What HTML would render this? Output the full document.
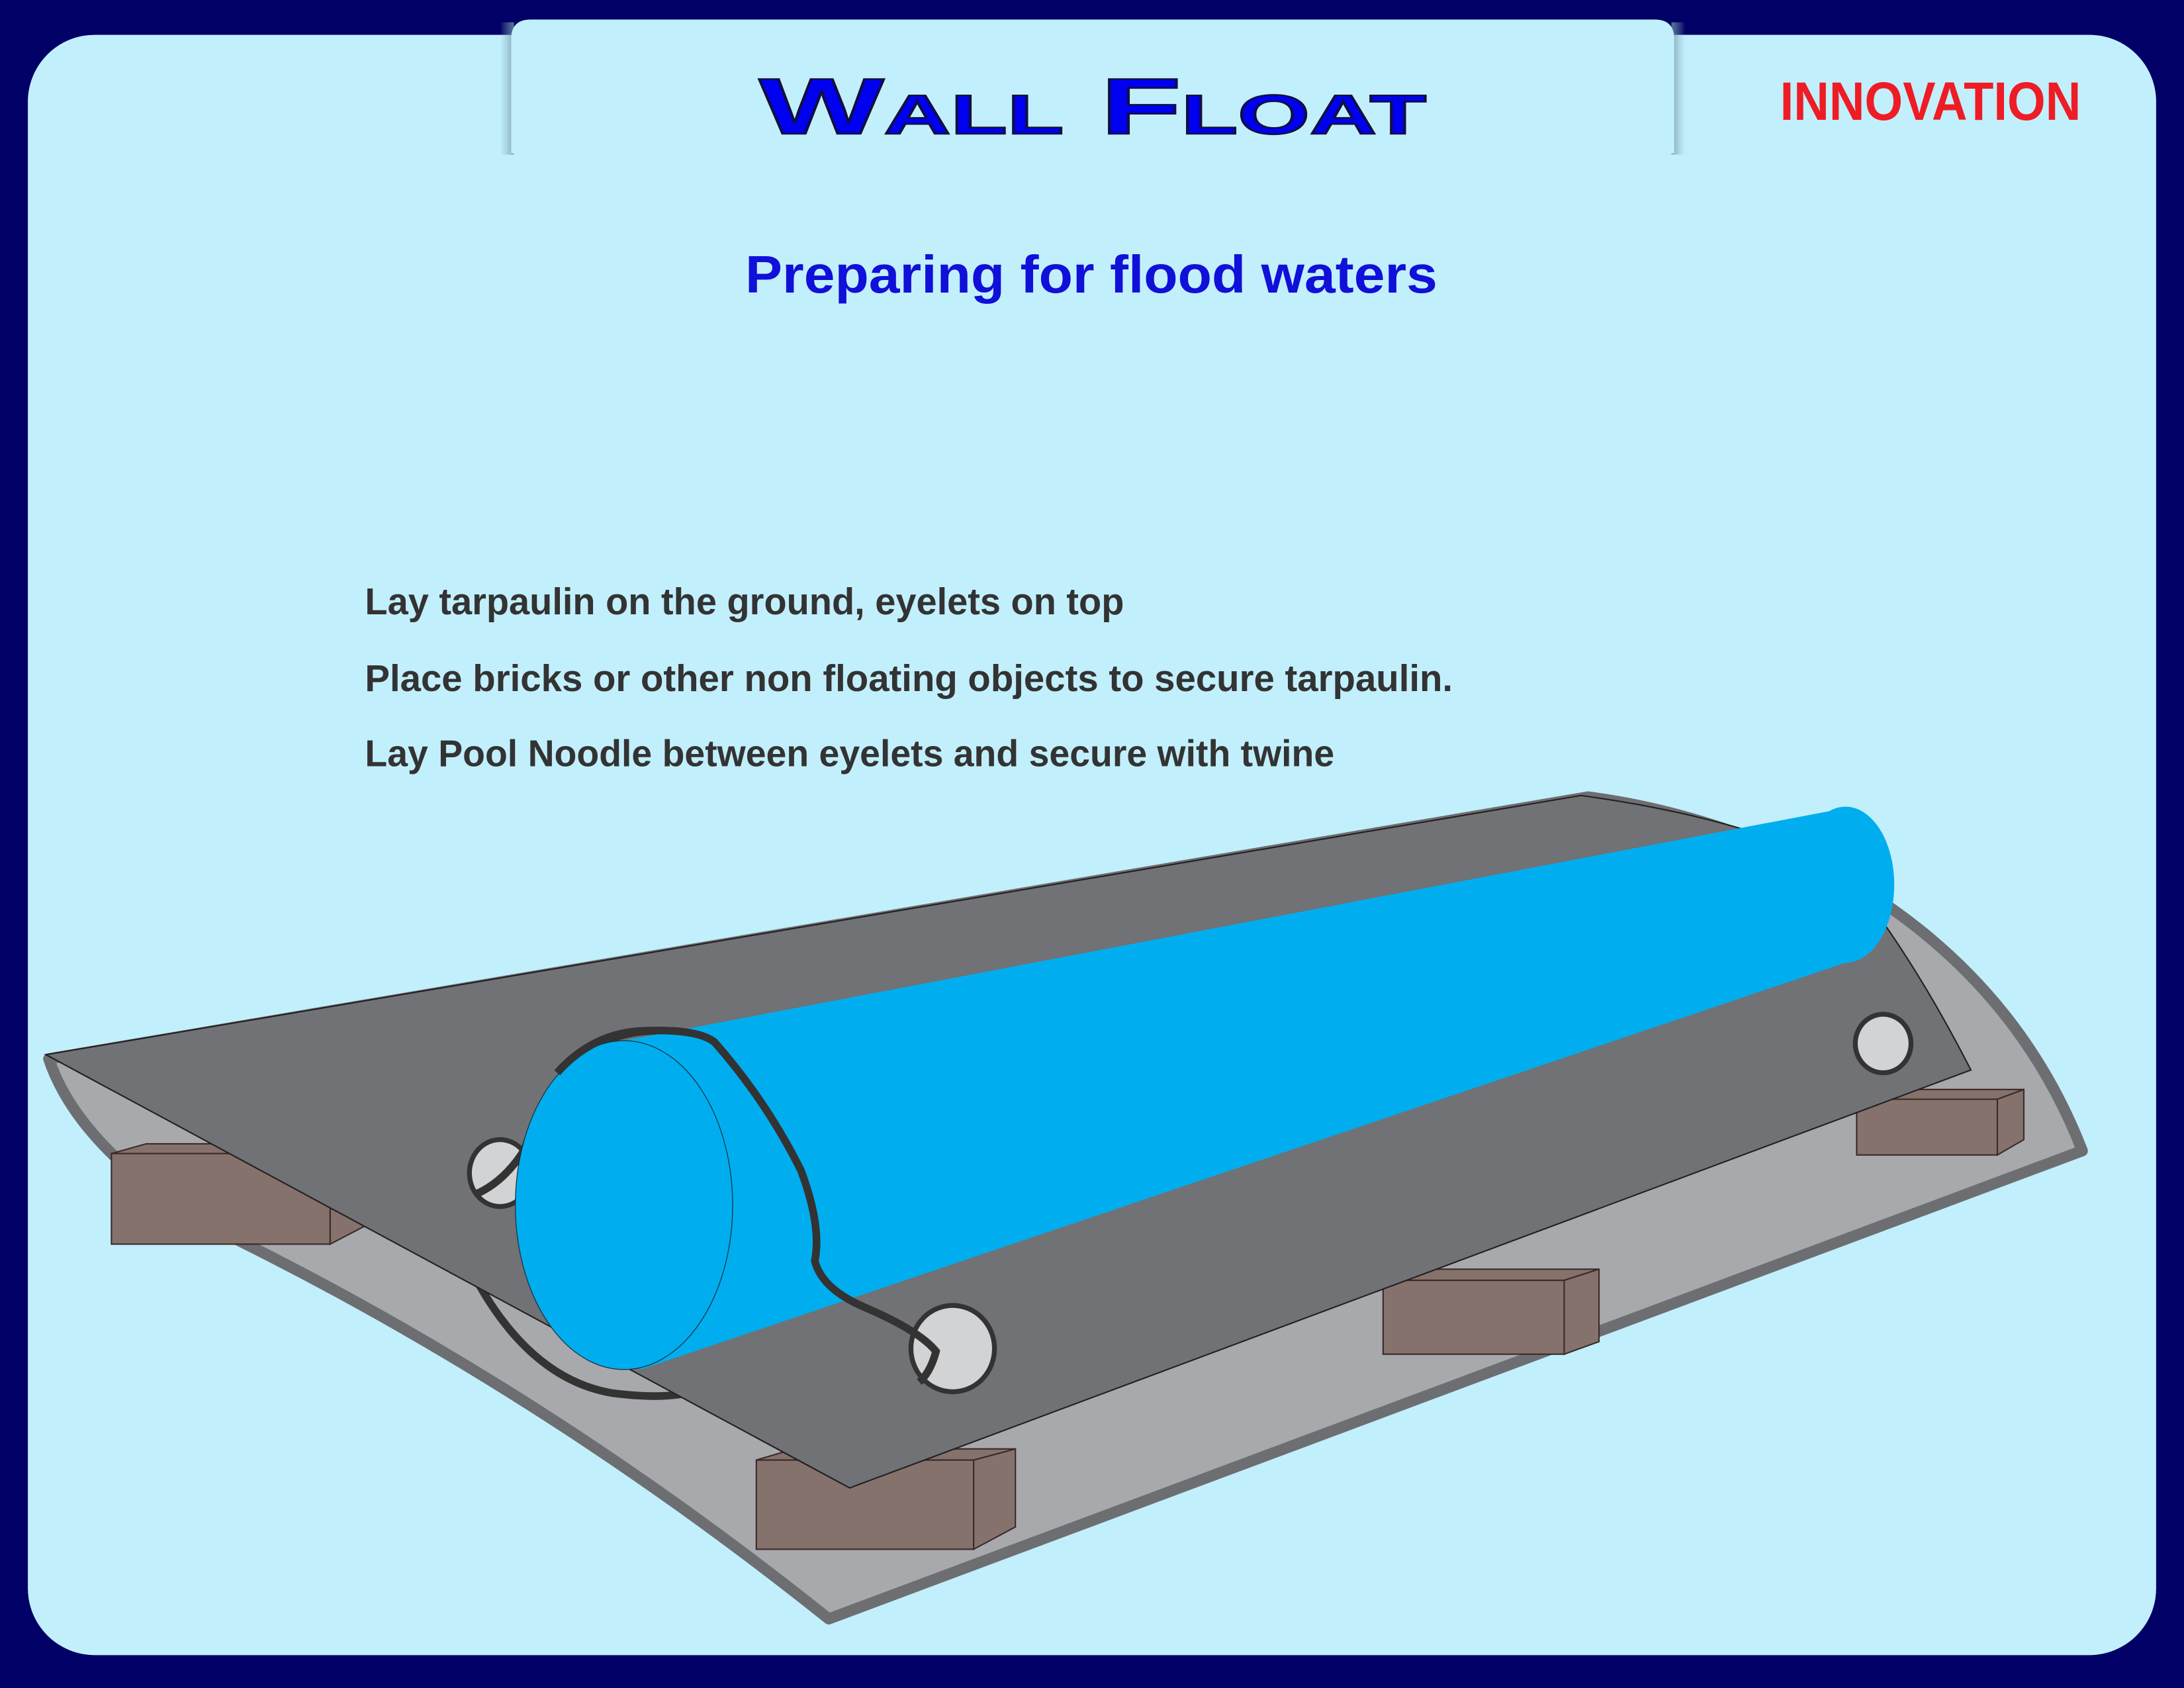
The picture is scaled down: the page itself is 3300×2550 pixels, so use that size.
<!DOCTYPE html>
<html><head><meta charset="utf-8"><style>
html,body{margin:0;padding:0;background:#000066;}
svg{display:block;}
</style></head><body>
<svg width="3300" height="2550" viewBox="0 0 1568 1211.6" preserveAspectRatio="none" xmlns="http://www.w3.org/2000/svg">
<defs>
<linearGradient id="shl" x1="0" x2="1"><stop offset="0" stop-color="#8fb4c4" stop-opacity="0"/><stop offset="1" stop-color="#6f95a8" stop-opacity="0.8"/></linearGradient>
<linearGradient id="shr" x1="1" x2="0"><stop offset="0" stop-color="#8fb4c4" stop-opacity="0"/><stop offset="1" stop-color="#6f95a8" stop-opacity="0.8"/></linearGradient>
</defs>
<rect x="0" y="0" width="1568" height="1212" fill="#000066"/>
<rect x="20" y="25" width="1528" height="1163" rx="48" fill="#c2effc"/>
<rect x="359" y="16" width="10" height="95" fill="url(#shl)"/>
<rect x="1200" y="16" width="10" height="95" fill="url(#shr)"/>
<path d="M367 110 L367 28 Q367 14 381 14 L1188 14 Q1202 14 1202 28 L1202 110 Z" fill="#c2effc"/>
<text x="545" y="96" font-family="Liberation Sans, sans-serif" font-weight="bold" font-size="57" style="font-variant:small-caps" fill="#0000f0" stroke="#101040" stroke-width="1.2" textLength="479" lengthAdjust="spacingAndGlyphs">Wall Float</text>
<text x="1278" y="86" font-family="Liberation Sans, sans-serif" font-weight="bold" font-size="39" fill="#ee1c25" textLength="216" lengthAdjust="spacingAndGlyphs">INNOVATION</text>
<text x="535" y="210" font-family="Liberation Sans, sans-serif" font-weight="bold" font-size="38" fill="#1010d8" textLength="497" lengthAdjust="spacingAndGlyphs">Preparing for flood waters</text>
<g font-family="Liberation Sans, sans-serif" font-weight="bold" font-size="27" fill="#333">
<text x="262" y="441" textLength="545" lengthAdjust="spacingAndGlyphs">Lay tarpaulin on the ground, eyelets on top</text>
<text x="262" y="496" textLength="781" lengthAdjust="spacingAndGlyphs">Place bricks or other non floating objects to secure tarpaulin.</text>
<text x="262" y="550" textLength="696" lengthAdjust="spacingAndGlyphs">Lay Pool Noodle between eyelets and secure with twine</text>
</g>
<path d="M35 760 Q55 820 140 875 Q380 990 595 1162 L1495 826 Q1450 710 1340 640 Q1240 585 1140 572 Z" fill="#a7a9ac" stroke="#6d6e71" stroke-width="8" stroke-linejoin="round"/>
<g fill="#85726d" stroke="#3a2a28" stroke-width="1">
<path d="M80 828 L105 821 L262 821 L237 828 Z"/><path d="M237 828 L262 821 L262 880 L237 893 Z"/><rect x="80" y="828" width="157" height="65"/>
<path d="M543 1048 L570 1040 L729 1040 L699 1048 Z"/><path d="M699 1048 L729 1040 L729 1096 L699 1112 Z"/><rect x="543" y="1048" width="156" height="64"/>
<path d="M993 919 L1018 911 L1148 911 L1123 919 Z"/><path d="M1123 919 L1148 911 L1148 963 L1123 972 Z"/><rect x="993" y="919" width="130" height="53"/>
<path d="M1333 789 L1352 782 L1453 782 L1434 789 Z"/><path d="M1434 789 L1453 782 L1453 818 L1434 829 Z"/><rect x="1333" y="789" width="101" height="40"/>
</g>
<path d="M340 915 Q380 990 440 1000 Q480 1005 500 998" fill="none" stroke="#333" stroke-width="5.5"/>
<path d="M33 757 L1135 571 Q1240 585 1320 620 Q1370 680 1415 768 L610 1068 Z" fill="#707275" stroke="#231f20" stroke-width="1"/>
<g fill="#d1d3d4" stroke="#333" stroke-width="3.5">
<ellipse cx="1352" cy="749" rx="20" ry="21"/>
<ellipse cx="684" cy="968" rx="30" ry="31"/>
<ellipse cx="359" cy="842" rx="22" ry="24"/>
</g>
<path d="M342 857 Q362 848 376 826 Q390 790 415 760 Q440 738 480 740 Q505 742 513 748" fill="none" stroke="#333" stroke-width="5.5"/>
<path d="M448 747 L1325 580 L1325 691 L460 983 Z" fill="#00aeef"/>
<ellipse cx="1325" cy="635" rx="35" ry="56" fill="#00aeef"/>
<ellipse cx="448" cy="865" rx="78" ry="118" fill="#00aeef" stroke="#1a3040" stroke-width="0.6"/>
<path d="M400 770 Q425 742 460 740" fill="none" stroke="#333" stroke-width="5.5"/>
<path d="M460 740 Q500 738 513 748 Q550 790 575 840 Q590 880 585 905 Q590 925 620 938 Q660 955 672 970 Q668 985 660 992" fill="none" stroke="#333" stroke-width="5.5"/>
</svg>
</body></html>
